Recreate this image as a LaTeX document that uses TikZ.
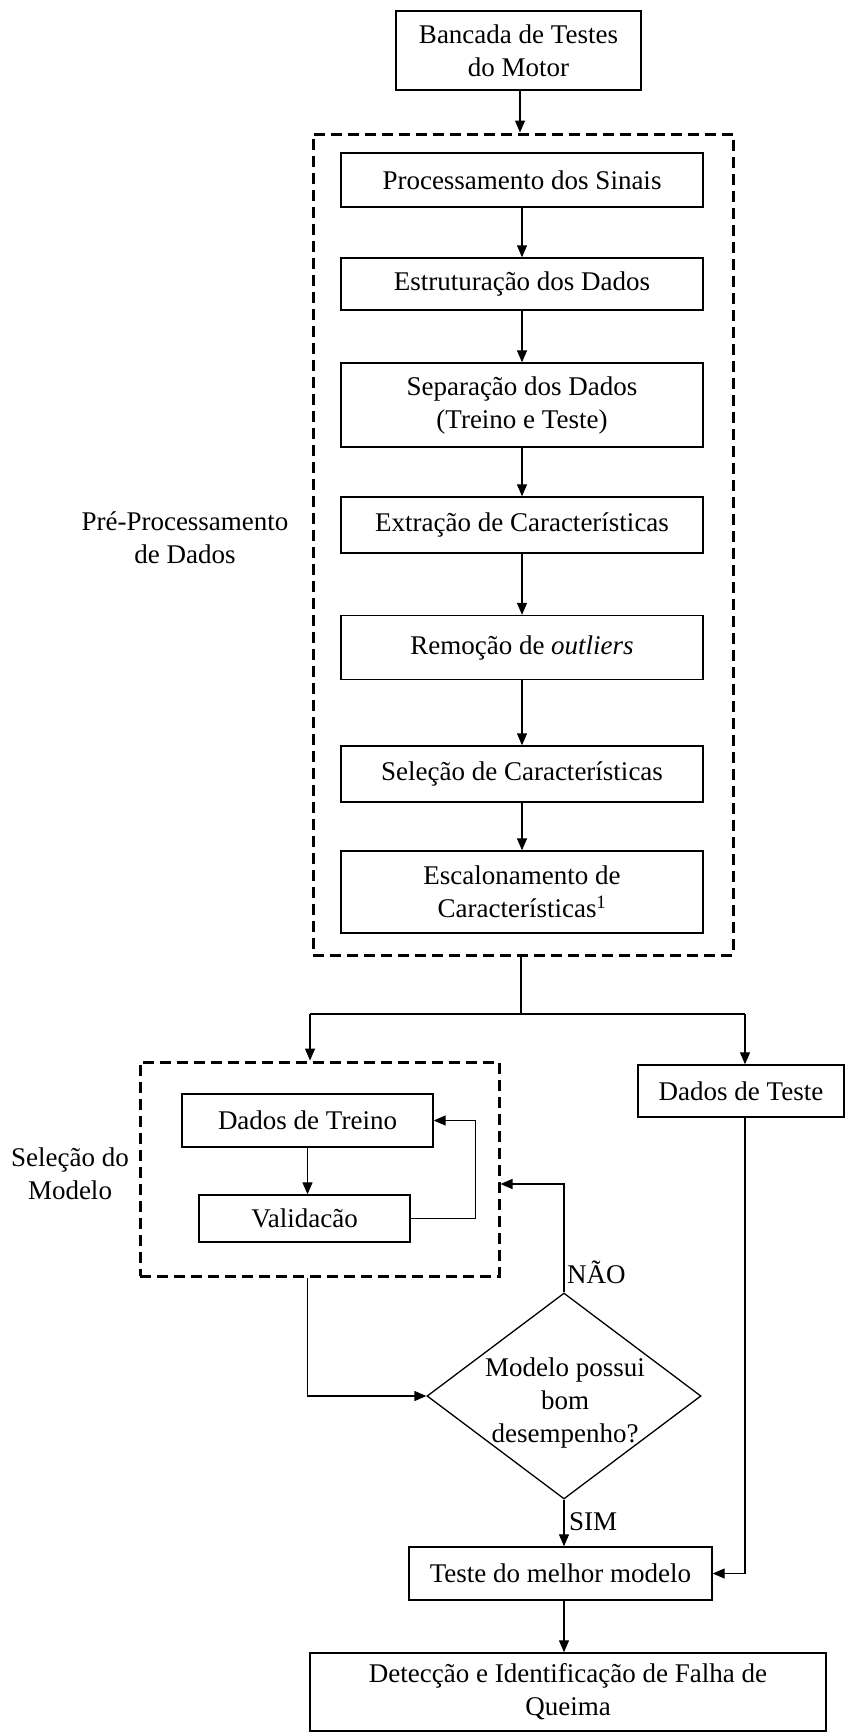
\documentclass[tikz,border=0pt]{standalone}
\usepackage{fontspec}
\setmainfont{Liberation Serif}
\usetikzlibrary{arrows.meta,shapes.geometric}
\begin{document}
\begin{tikzpicture}[x=1pt,y=-1pt,
  every node/.style={font=\fontsize{27}{33}\selectfont, align=center, inner sep=0pt},
  stepbox/.style={draw, rectangle, line width=1.4pt},
  group/.style={draw, rectangle, line width=3pt, dash pattern=on 11pt off 6pt},
  link/.style={line width=1.3pt},
  arrow/.style={link, -{Triangle[width=10pt,length=12pt]}},
  decision/.style={draw, diamond, line width=1.3pt},
]
\useasboundingbox[fill=white] (0,0) rectangle (845,1733);

% --- test bench and pre-processing block
\node[stepbox, minimum width=245pt, minimum height=79pt] (bancada) at (518.5,50.5) {Bancada de Testes\\do Motor};
\node[group, minimum width=420pt, minimum height=821pt] (pre) at (523,544.5) {};
\node (prelabel) at (185,538) {Pré-Processamento\\de Dados};

\node[stepbox, minimum width=362pt, minimum height=54pt] (proc) at (522,180) {Processamento dos Sinais};
\node[stepbox, minimum width=362pt, minimum height=52pt] (estr) at (522,284) {Estruturação dos Dados};
\node[stepbox, minimum width=362pt, minimum height=84pt] (sep)  at (522,405) {Separação dos Dados\\(Treino e Teste)};
\node[stepbox, minimum width=362pt, minimum height=56pt] (extr) at (522,525) {Extração de Características};
\node[stepbox, minimum width=362pt, minimum height=64pt] (remo) at (522,647.5) {Remoção de \textit{outliers}};
\node[stepbox, minimum width=362pt, minimum height=56pt] (selc) at (522,774) {Seleção de Características};
\node[stepbox, minimum width=362pt, minimum height=82pt] (esc)  at (522,892) {Escalonamento de\\Características\textsuperscript{1}};

\draw[arrow] (bancada.south -| 520,0) -- (520,0 |- pre.north);
\draw[arrow] (proc) -- (estr);
\draw[arrow] (estr) -- (sep);
\draw[arrow] (sep) -- (extr);
\draw[arrow] (extr) -- (remo);
\draw[arrow] (remo) -- (selc);
\draw[arrow] (selc) -- (esc);

% --- split into training and test data
\coordinate (split)  at (521,1014);
\coordinate (splitL) at (310,1014);
\coordinate (splitR) at (745,1014);

\node[group, minimum width=359pt, minimum height=214pt] (model) at (319.5,1169) {};
\node (modellabel) at (70,1174) {Seleção do\\Modelo};
\node[stepbox, minimum width=251pt, minimum height=53pt] (treino) at (307.5,1120.5) {Dados de Treino};
\node[stepbox, minimum width=211pt, minimum height=47pt] (valid)  at (304.5,1218.5) {Validacão};
\node[stepbox, minimum width=206pt, minimum height=52pt] (teste)  at (741,1091) {Dados de Teste};

\draw[link] (split |- pre.south) -- (split);
\draw[link] (splitL) -- (splitR);
\draw[arrow] (splitL) -- (splitL |- model.north);
\draw[arrow] (splitR) -- (splitR |- teste.north);

\draw[arrow] (treino.south) -- (treino.south |- valid.north);
\draw[arrow] (valid.east) -- ++(65,0) |- (treino.east);

% --- model decision
\node[decision, minimum width=274pt, minimum height=206pt] (dec) at (564,1396) {};
\node (dectext) at (565,1403) {Modelo possui\\bom\\desempenho?};

\draw[arrow] (treino.south |- model.south) |- (dec.west);

\coordinate (noturn) at (564,1184);
\draw[arrow] (dec.north) -- (noturn) -- (noturn -| model.east);
\node[anchor=west] (nao) at (567,1272) {NÃO};

\node[stepbox, minimum width=303pt, minimum height=53pt] (melhor) at (560.5,1573.5) {Teste do melhor modelo};
\node[stepbox, minimum width=516pt, minimum height=78pt] (detec) at (568,1692) {Detecção e Identificação de Falha de\\Queima};

\draw[arrow] (dec.south) -- (dec.south |- melhor.north);
\node[anchor=west] (sim) at (569,1522) {SIM};

\draw[arrow] (splitR |- teste.south) -- (splitR |- melhor.east) -- (melhor.east);
\draw[arrow] (dec.south |- melhor.south) -- (dec.south |- detec.north);
\end{tikzpicture}
\end{document}
